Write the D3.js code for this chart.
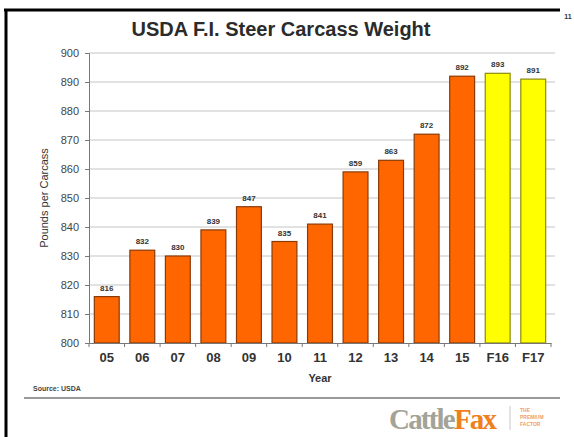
<!DOCTYPE html>
<html>
<head>
<meta charset="utf-8">
<script src="https://cdn.jsdelivr.net/npm/d3@7"></script>
<style>
  body { margin: 0; background: #fff; }
  svg { display: block; font-family: 'Liberation Sans', Arial, sans-serif; }
</style>
</head>
<body>
<svg id="chart"></svg>
<script>
// chart values
const years = ['05', '06', '07', '08', '09', '10', '11', '12', '13', '14', '15', 'F16', 'F17'];
const weights = [816, 832, 830, 839, 847, 835, 841, 859, 863, 872, 892, 893, 891];
const forecastYears = ['F16', 'F17'];
const yTicks = [800, 810, 820, 830, 840, 850, 860, 870, 880, 890, 900];

const width = 574;
const height = 437;
const plotLeft = 89;
const plotRight = 551;
const plotTop = 53;
const plotBottom = 343;

const svg = d3.select('#chart')
  .attr('width', width)
  .attr('height', height);

svg.append('rect')
  .attr('width', width)
  .attr('height', height)
  .attr('fill', '#fff');

const scaleX = d3.scaleBand()
  .domain(years)
  .range([plotLeft, plotRight])
  .paddingInner(0.3)
  .paddingOuter(0.15);

const scaleY = d3.scaleLinear()
  .domain([800, 900])
  .range([plotBottom, plotTop]);

// frame
svg.append('line')
  .attr('x1', 4).attr('x2', 560)
  .attr('y1', 10).attr('y2', 10)
  .attr('stroke', '#000')
  .attr('stroke-width', 3);
svg.append('line')
  .attr('x1', 6).attr('x2', 6)
  .attr('y1', 9).attr('y2', height)
  .attr('stroke', '#000')
  .attr('stroke-width', 3);

svg.append('text')
  .attr('x', 568).attr('y', 19)
  .attr('text-anchor', 'middle')
  .attr('font-size', 7)
  .attr('font-weight', 'bold')
  .attr('fill', '#333')
  .text('11');

// title
svg.append('text')
  .attr('x', 281).attr('y', 36)
  .attr('text-anchor', 'middle')
  .attr('font-size', 20)
  .attr('font-weight', 'bold')
  .attr('fill', '#2b2b2b')
  .text('USDA F.I. Steer Carcass Weight');

// gridlines
svg.append('g')
  .attr('class', 'grid')
  .selectAll('line')
  .data(yTicks.filter(d => d > 800))
  .join('line')
  .attr('x1', plotLeft)
  .attr('x2', plotRight + 4)
  .attr('y1', d => scaleY(d))
  .attr('y2', d => scaleY(d))
  .attr('stroke', '#c4c4c4')
  .attr('stroke-width', 1);

// y axis
const yAxis = svg.append('g')
  .attr('class', 'axis')
  .attr('transform', `translate(${plotLeft}, 0)`)
  .call(d3.axisLeft(scaleY).tickValues(yTicks).tickSize(4).tickPadding(6));
yAxis.select('.domain').attr('stroke', '#777');
yAxis.selectAll('.tick line').attr('stroke', '#777');
yAxis.selectAll('.tick text')
  .attr('font-size', 11)
  .attr('font-family', "'Liberation Sans', Arial, sans-serif")
  .attr('fill', '#444');

// bars
svg.append('g')
  .attr('class', 'bars')
  .selectAll('rect')
  .data(years)
  .join('rect')
  .attr('x', d => scaleX(d))
  .attr('y', (d, i) => scaleY(weights[i]))
  .attr('width', scaleX.bandwidth())
  .attr('height', (d, i) => plotBottom - scaleY(weights[i]))
  .attr('fill', d => (forecastYears.includes(d) ? '#ffff00' : '#ff6600'))
  .attr('stroke', d => (forecastYears.includes(d) ? '#8a8a10' : '#8a3a08'))
  .attr('stroke-width', 1.2);

// value labels
svg.append('g')
  .attr('class', 'value-labels')
  .selectAll('text')
  .data(years)
  .join('text')
  .attr('x', d => scaleX(d) + scaleX.bandwidth() / 2)
  .attr('y', (d, i) => scaleY(weights[i]) - 6)
  .attr('text-anchor', 'middle')
  .attr('font-size', 8)
  .attr('font-weight', 'bold')
  .attr('fill', '#333')
  .text((d, i) => weights[i]);

// x axis
const xAxis = svg.append('g')
  .attr('class', 'axis')
  .attr('transform', `translate(0, ${plotBottom})`)
  .call(d3.axisBottom(scaleX).tickSize(0).tickPadding(10));
xAxis.select('.domain').attr('stroke', '#777');
xAxis.selectAll('.tick text')
  .attr('font-size', 13)
  .attr('font-weight', 'bold')
  .attr('font-family', "'Liberation Sans', Arial, sans-serif")
  .attr('fill', '#333');

// category boundary ticks
const boundaries = years.map(d => scaleX(d) - scaleX.step() * scaleX.paddingInner() / 2)
  .concat([plotRight]);
svg.append('g')
  .selectAll('line')
  .data(boundaries)
  .join('line')
  .attr('x1', d => d).attr('x2', d => d)
  .attr('y1', plotBottom).attr('y2', plotBottom + 4)
  .attr('stroke', '#777');

// axis titles
svg.append('text')
  .attr('x', (plotLeft + plotRight) / 2)
  .attr('y', 382)
  .attr('text-anchor', 'middle')
  .attr('font-size', 11)
  .attr('font-weight', 'bold')
  .attr('fill', '#333')
  .text('Year');

svg.append('text')
  .attr('transform', `translate(48, ${(plotTop + plotBottom) / 2}) rotate(-90)`)
  .attr('text-anchor', 'middle')
  .attr('font-size', 11)
  .attr('fill', '#333')
  .text('Pounds per Carcass');

// source + rule
svg.append('text')
  .attr('x', 33).attr('y', 391)
  .attr('font-size', 7)
  .attr('font-weight', 'bold')
  .attr('fill', '#444')
  .text('Source: USDA');

svg.append('line')
  .attr('x1', 24).attr('x2', 560)
  .attr('y1', 398).attr('y2', 398)
  .attr('stroke', '#9a9a9a')
  .attr('stroke-width', 2);

// logo
const logo = svg.append('text')
  .attr('x', 389).attr('y', 429)
  .attr('font-family', "'Liberation Serif', 'DejaVu Serif', serif")
  .attr('font-size', 29)
  .attr('font-weight', 'bold')
  .attr('letter-spacing', -1.8);
logo.append('tspan').attr('fill', '#a3a397').text('Cattle');
logo.append('tspan').attr('fill', '#f07f1e').text('Fax');

svg.append('line')
  .attr('x1', 510).attr('x2', 510)
  .attr('y1', 406).attr('y2', 430)
  .attr('stroke', '#c8c8c8');

svg.append('g')
  .selectAll('text')
  .data(['THE', 'PREMIUM', 'FACTOR'])
  .join('text')
  .attr('x', 520)
  .attr('y', (d, i) => 412 + i * 7)
  .attr('font-size', 5)
  .attr('font-weight', 'bold')
  .attr('fill', '#f0a060')
  .text(d => d);
</script>
</body>
</html>
